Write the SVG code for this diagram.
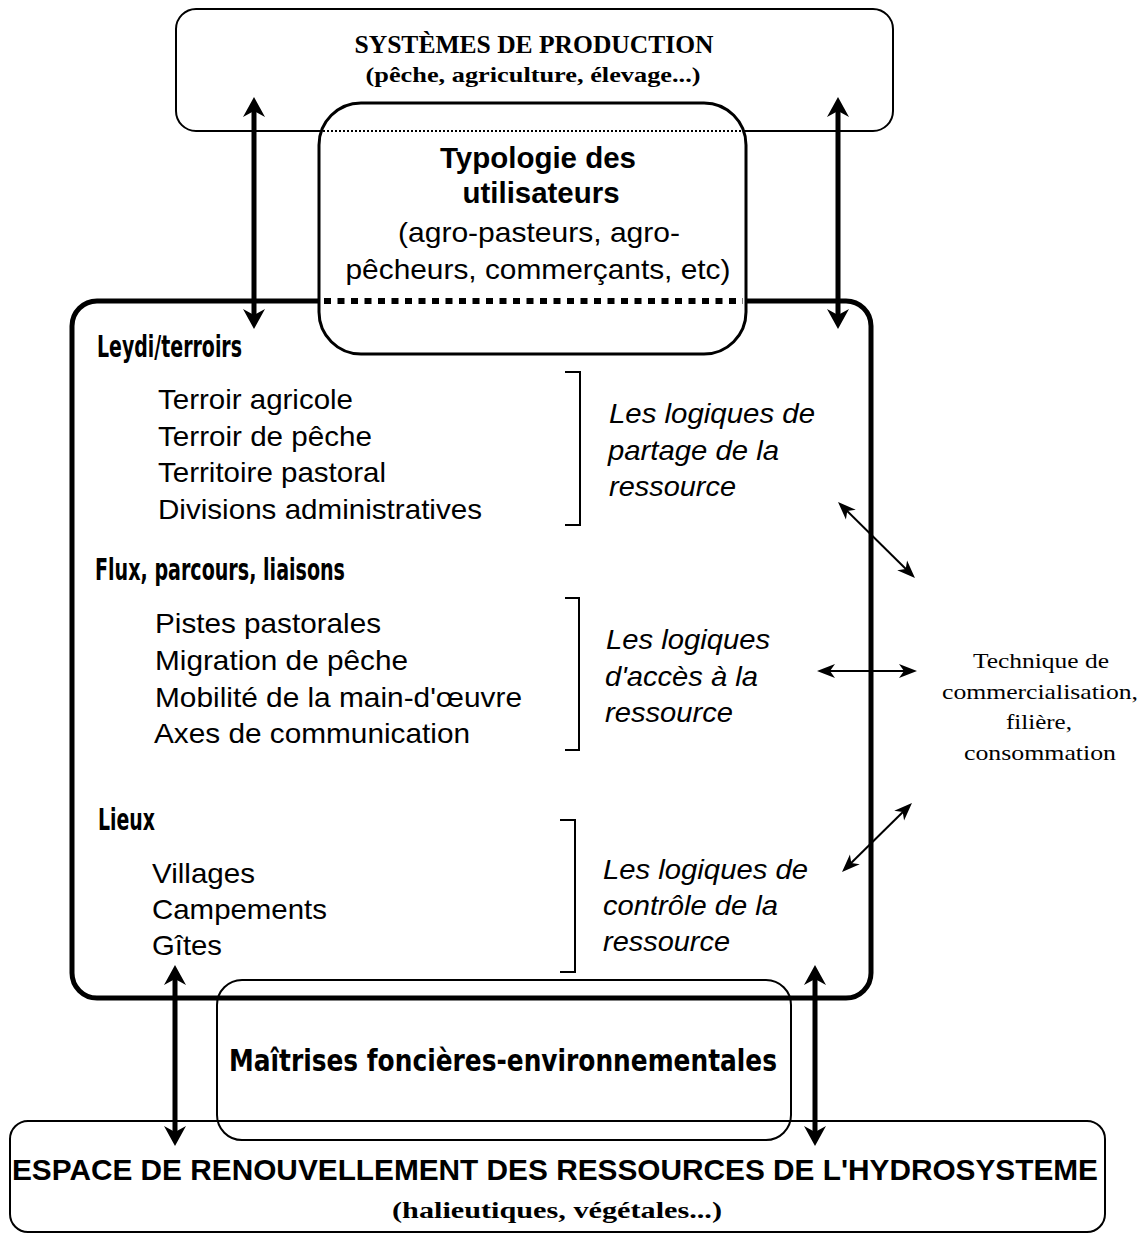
<svg xmlns="http://www.w3.org/2000/svg" width="1146" height="1235" viewBox="0 0 1146 1235">
  <style>
    .box { fill: none; stroke: #000; }
    .serif { font-family: "Liberation Serif", "Times New Roman", serif; fill: #000; }
    .sans { font-family: "Liberation Sans", Arial, sans-serif; fill: #000; }
    .narrow { font-family: "Liberation Sans Narrow", "DejaVu Sans Condensed", "Liberation Sans", sans-serif; font-weight: bold; fill: #000; }
    .item { font-size: 28px; }
    .logic { font-size: 28px; font-style: italic; }
    .heading { font-size: 30px; }
    .mid { text-anchor: middle; }
    .thick { stroke: #000; stroke-width: 5; fill: none; }
    .thin { stroke: #000; stroke-width: 2; fill: none; }
  </style>
  <defs>
    <marker id="head-thick" viewBox="-14 -12 24 24" markerWidth="24" markerHeight="24" refX="0" refY="0" markerUnits="userSpaceOnUse" orient="auto-start-reverse">
      <path d="M8,0 L-12,-11 L-6,0 L-12,11 Z" fill="#000"/>
    </marker>
    <marker id="head-thin" viewBox="-14 -9 22 18" markerWidth="22" markerHeight="18" refX="0" refY="0" markerUnits="userSpaceOnUse" orient="auto-start-reverse">
      <path d="M6,0 L-12,-7 L-7,0 L-12,7 Z" fill="#000"/>
    </marker>
  </defs>

  <!-- Production systems -->
  <g id="systemes-production">
    <rect class="box" x="176" y="9" width="717" height="122" rx="20" stroke-width="2"/>
    <text class="serif mid" x="534" y="53" font-size="25" font-weight="bold" textLength="359" lengthAdjust="spacingAndGlyphs">SYSTÈMES DE PRODUCTION</text>
    <text class="serif mid" x="533" y="82" font-size="21" font-weight="bold" textLength="335" lengthAdjust="spacingAndGlyphs">(pêche, agriculture, élevage...)</text>
  </g>

  <!-- Main frame: places, flows, territories -->
  <g id="espace-central">
    <rect class="box" x="72" y="301" width="799" height="697" rx="25" stroke-width="5"/>
    <text class="narrow heading" x="97" y="357" textLength="145" lengthAdjust="spacingAndGlyphs">Leydi/terroirs</text>
    <text class="sans item" x="158" y="409" textLength="195" lengthAdjust="spacingAndGlyphs">Terroir agricole</text>
    <text class="sans item" x="158" y="446" textLength="214" lengthAdjust="spacingAndGlyphs">Terroir de pêche</text>
    <text class="sans item" x="158" y="482" textLength="228" lengthAdjust="spacingAndGlyphs">Territoire pastoral</text>
    <text class="sans item" x="158" y="519" textLength="324" lengthAdjust="spacingAndGlyphs">Divisions administratives</text>

    <text class="narrow heading" x="95" y="580" textLength="250" lengthAdjust="spacingAndGlyphs">Flux, parcours, liaisons</text>
    <text class="sans item" x="155" y="633" textLength="226" lengthAdjust="spacingAndGlyphs">Pistes pastorales</text>
    <text class="sans item" x="155" y="670" textLength="253" lengthAdjust="spacingAndGlyphs">Migration de pêche</text>
    <text class="sans item" x="155" y="707" textLength="367" lengthAdjust="spacingAndGlyphs">Mobilité de la main-d'œuvre</text>
    <text class="sans item" x="154" y="743" textLength="316" lengthAdjust="spacingAndGlyphs">Axes de communication</text>

    <text class="narrow heading" x="98" y="830" textLength="57" lengthAdjust="spacingAndGlyphs">Lieux</text>
    <text class="sans item" x="152" y="883" textLength="103" lengthAdjust="spacingAndGlyphs">Villages</text>
    <text class="sans item" x="152" y="919" textLength="175" lengthAdjust="spacingAndGlyphs">Campements</text>
    <text class="sans item" x="152" y="955" textLength="70" lengthAdjust="spacingAndGlyphs">Gîtes</text>

    <path class="thin" d="M565,372 H580 V525 H565"/>
    <path class="thin" d="M565,598 H579 V750 H565"/>
    <path class="thin" d="M560,820 H575 V972 H560"/>

    <text class="sans logic" x="609" y="423" textLength="206" lengthAdjust="spacingAndGlyphs">Les logiques de</text>
    <text class="sans logic" x="608" y="460" textLength="171" lengthAdjust="spacingAndGlyphs">partage de la</text>
    <text class="sans logic" x="609" y="496" textLength="127" lengthAdjust="spacingAndGlyphs">ressource</text>

    <text class="sans logic" x="606" y="649" textLength="164" lengthAdjust="spacingAndGlyphs">Les logiques</text>
    <text class="sans logic" x="605" y="686" textLength="153" lengthAdjust="spacingAndGlyphs">d'accès à la</text>
    <text class="sans logic" x="605" y="722" textLength="128" lengthAdjust="spacingAndGlyphs">ressource</text>

    <text class="sans logic" x="603" y="879" textLength="205" lengthAdjust="spacingAndGlyphs">Les logiques de</text>
    <text class="sans logic" x="603" y="915" textLength="175" lengthAdjust="spacingAndGlyphs">contrôle de la</text>
    <text class="sans logic" x="603" y="951" textLength="127" lengthAdjust="spacingAndGlyphs">ressource</text>
  </g>

  <!-- User typology, straddling the two upper frames -->
  <g id="typologie-utilisateurs">
    <rect x="319" y="103" width="427" height="251" rx="42" fill="#fff" stroke="#000" stroke-width="3"/>
    <line x1="323" y1="131" x2="743" y2="131" stroke="#000" stroke-width="2" stroke-dasharray="2 2"/>
    <line x1="324" y1="301" x2="743" y2="301" stroke="#000" stroke-width="6" stroke-dasharray="7 6.5"/>
    <text class="sans mid" x="538" y="168" font-size="29" font-weight="bold" textLength="196" lengthAdjust="spacingAndGlyphs">Typologie des</text>
    <text class="sans mid" x="541" y="203" font-size="29" font-weight="bold" textLength="157" lengthAdjust="spacingAndGlyphs">utilisateurs</text>
    <text class="sans mid" x="539" y="242" font-size="28" textLength="282" lengthAdjust="spacingAndGlyphs">(agro-pasteurs, agro-</text>
    <text class="sans mid" x="538" y="279" font-size="28" textLength="385" lengthAdjust="spacingAndGlyphs">pêcheurs, commerçants, etc)</text>
  </g>

  <!-- Land and environmental control -->
  <g id="maitrises-foncieres">
    <rect class="box" x="217" y="980" width="574" height="160" rx="25" stroke-width="2"/>
    <text class="narrow" x="229" y="1071" font-size="30" textLength="548" lengthAdjust="spacingAndGlyphs">Maîtrises foncières-environnementales</text>
  </g>

  <!-- Hydrosystem resources -->
  <g id="espace-renouvellement">
    <rect class="box" x="10" y="1121" width="1095" height="111" rx="18" stroke-width="2"/>
    <text class="sans" x="12" y="1180" font-size="30" font-weight="bold" textLength="1086" lengthAdjust="spacingAndGlyphs">ESPACE DE RENOUVELLEMENT DES RESSOURCES DE L'HYDROSYSTEME</text>
    <text class="serif mid" x="557" y="1218" font-size="24" font-weight="bold" textLength="330" lengthAdjust="spacingAndGlyphs">(halieutiques, végétales...)</text>
  </g>

  <!-- Marketing chain -->
  <g id="commercialisation">
    <text class="serif mid" x="1041" y="668" font-size="22" textLength="136" lengthAdjust="spacingAndGlyphs">Technique de</text>
    <text class="serif mid" x="1040" y="699" font-size="22" textLength="196" lengthAdjust="spacingAndGlyphs">commercialisation,</text>
    <text class="serif mid" x="1039" y="729" font-size="22" textLength="66" lengthAdjust="spacingAndGlyphs">filière,</text>
    <text class="serif mid" x="1040" y="760" font-size="22" textLength="152" lengthAdjust="spacingAndGlyphs">consommation</text>
  </g>

  <!-- Connectors -->
  <g id="connecteurs">
    <line class="thick" x1="254" y1="105" x2="254" y2="321" marker-start="url(#head-thick)" marker-end="url(#head-thick)"/>
    <line class="thick" x1="838" y1="105" x2="838" y2="321" marker-start="url(#head-thick)" marker-end="url(#head-thick)"/>
    <line class="thick" x1="175" y1="973" x2="175" y2="1138" marker-start="url(#head-thick)" marker-end="url(#head-thick)"/>
    <line class="thick" x1="815" y1="973" x2="815" y2="1138" marker-start="url(#head-thick)" marker-end="url(#head-thick)"/>

    <line class="thin" x1="842.3" y1="506.2" x2="910.7" y2="573.8" marker-start="url(#head-thin)" marker-end="url(#head-thin)"/>
    <line class="thin" x1="823" y1="671" x2="911" y2="671" marker-start="url(#head-thin)" marker-end="url(#head-thin)"/>
    <line class="thin" x1="846.3" y1="867.8" x2="907.7" y2="807.2" marker-start="url(#head-thin)" marker-end="url(#head-thin)"/>
  </g>
</svg>
